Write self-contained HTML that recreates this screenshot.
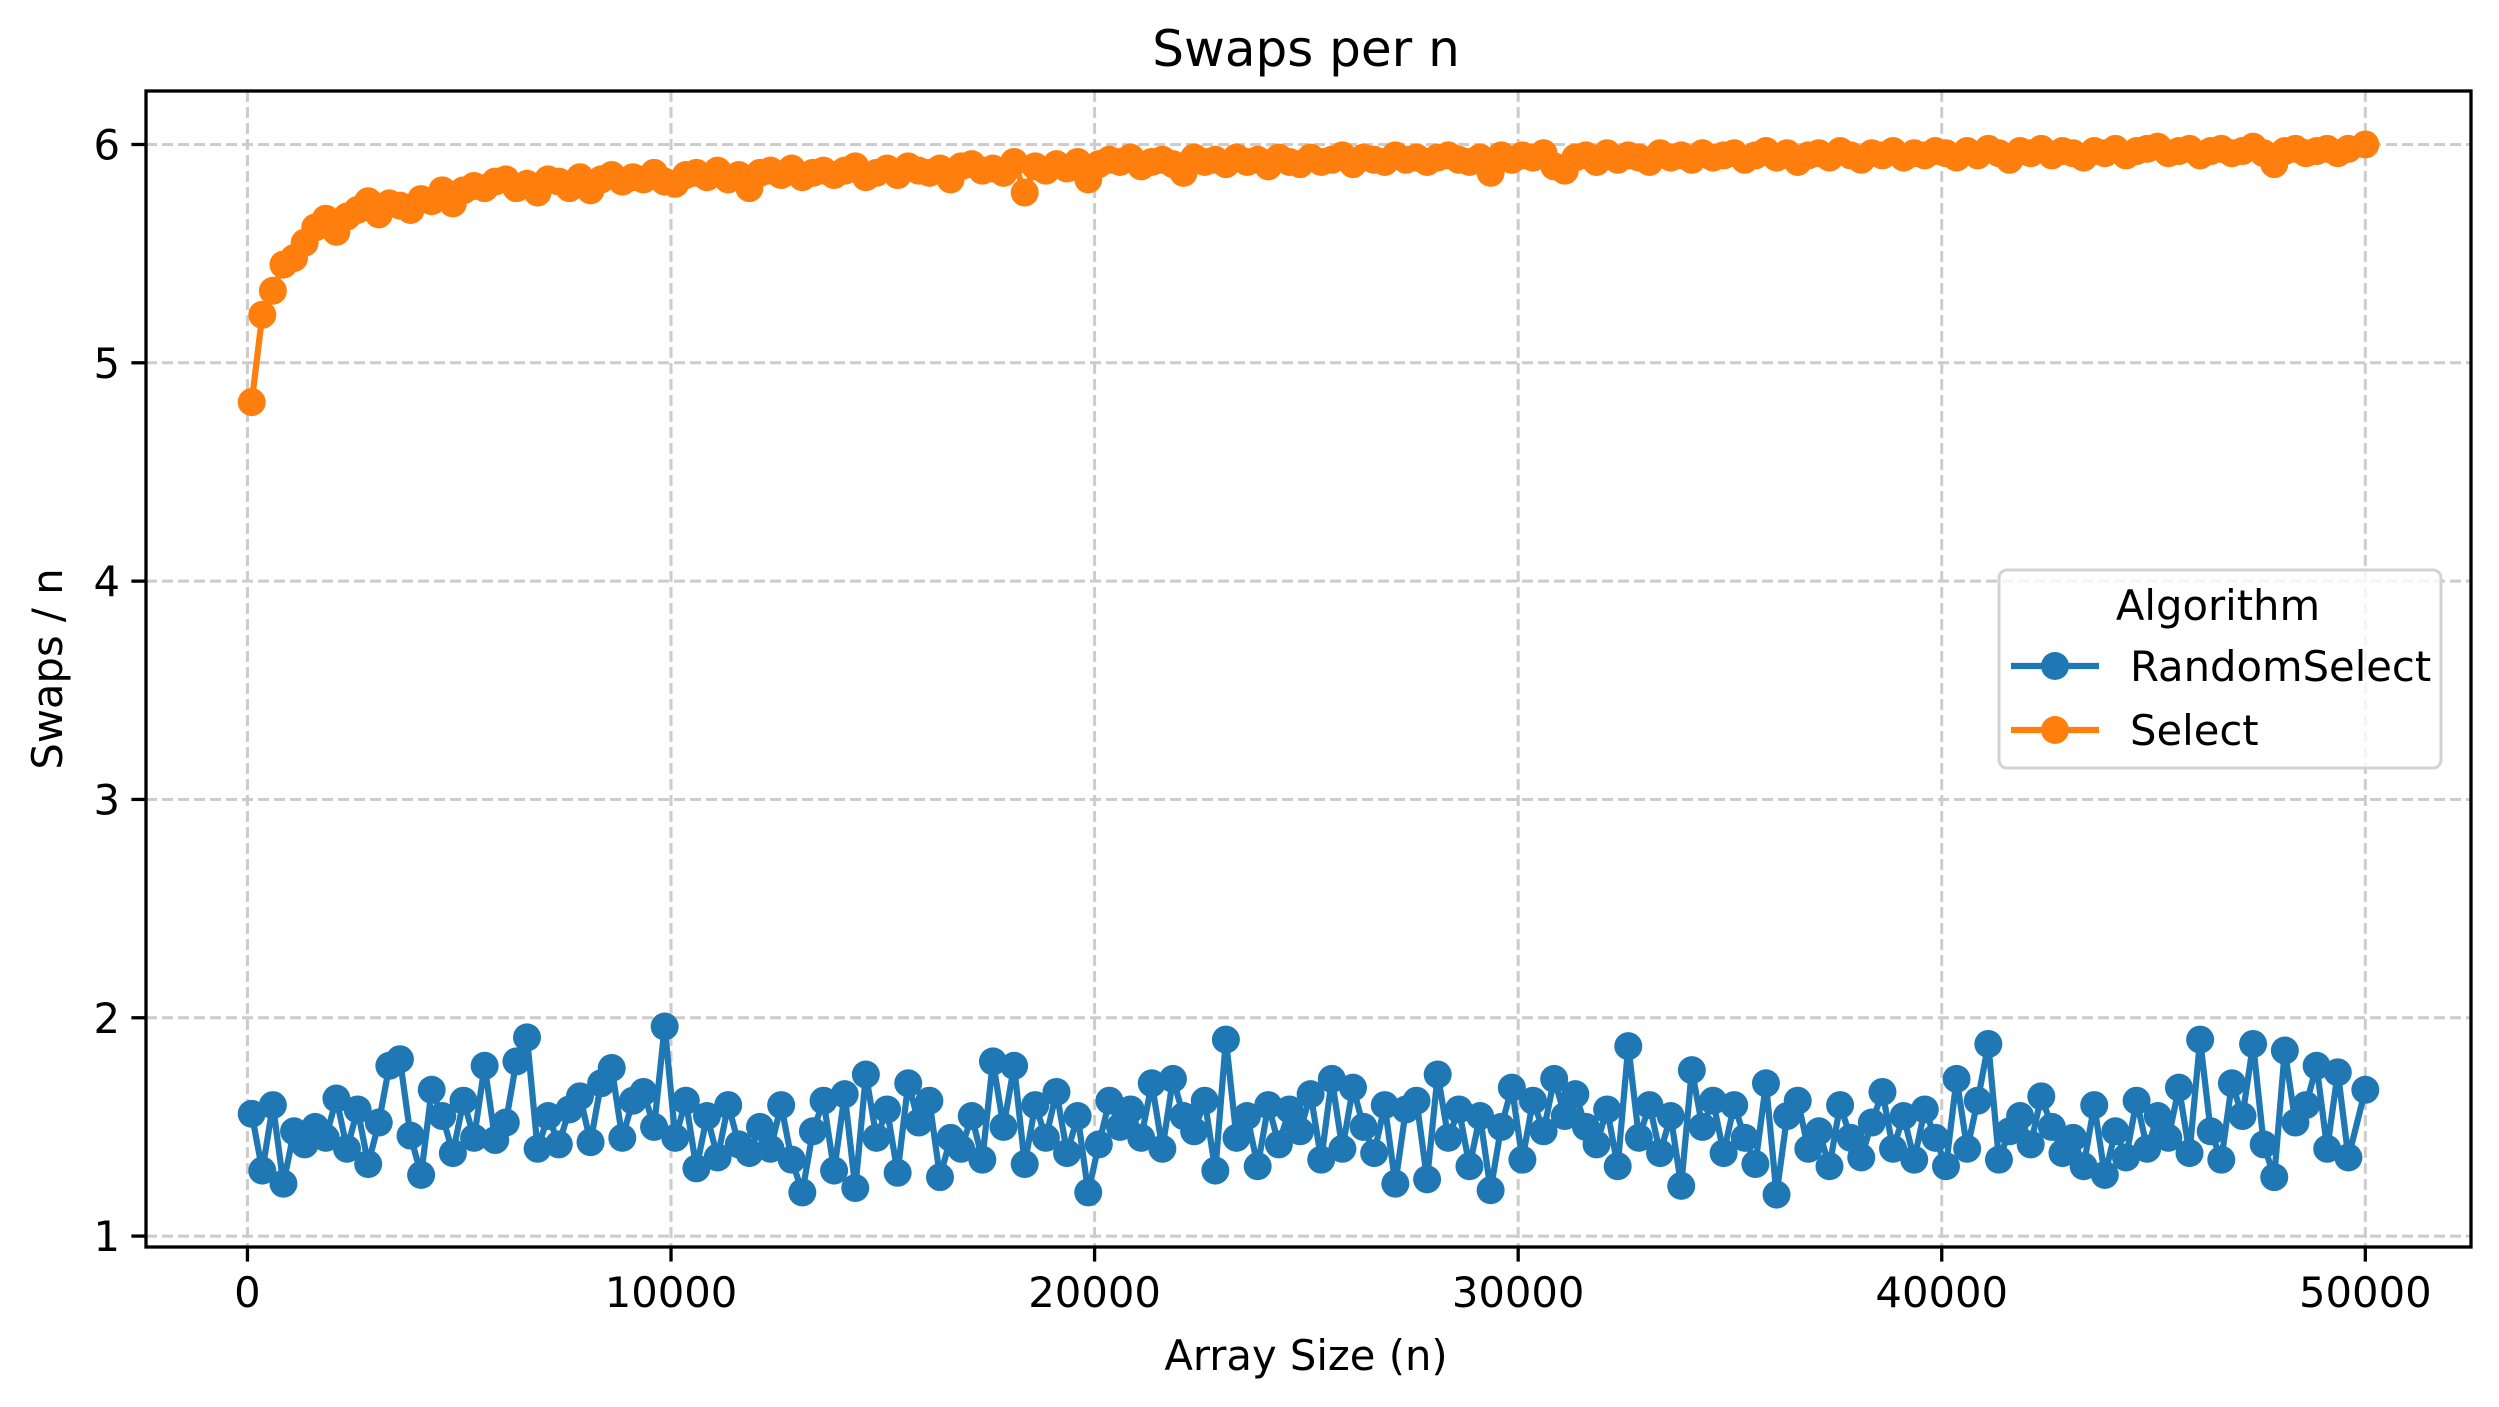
<!DOCTYPE html>
<html><head><meta charset="utf-8"><style>
html,body{margin:0;padding:0;background:#fff;}
svg{display:block;font-family:"DejaVu Sans","Liberation Sans",sans-serif;}
</style></head><body>
<svg id="chart" width="2499" height="1407" viewBox="0 0 2499 1407">
<rect x="0" y="0" width="2499" height="1407" fill="#fff"/>
<text x="1306" y="66" font-size="50" text-anchor="middle">Swaps per n</text>
<g id="grid"></g>
<g id="series"></g>
<g id="axes"></g>
<text x="1306" y="1370" font-size="41.7" text-anchor="middle">Array Size (n)</text>
<text x="0" y="0" font-size="41.7" text-anchor="middle" transform="translate(62,669) rotate(-90)">Swaps / n</text>
<g>
<rect x="1999" y="570" width="442" height="198" rx="8" fill="#fff" fill-opacity="0.8" stroke="#d3d3d3" stroke-width="3"/>
<text x="2218" y="620" font-size="41.7" text-anchor="middle">Algorithm</text>
<g>
<line x1="2011" y1="666" x2="2099" y2="666" stroke="#1f77b4" stroke-width="6.25"/>
<circle cx="2055" cy="666" r="14" fill="#1f77b4"/>
<text x="2130" y="681" font-size="41.7">RandomSelect</text></g>
<g>
<line x1="2011" y1="730" x2="2099" y2="730" stroke="#ff7f0e" stroke-width="6.25"/>
<circle cx="2055" cy="730" r="14" fill="#ff7f0e"/>
<text x="2130" y="745" font-size="41.7">Select</text></g>
</g>
</svg>
<script>
const xTicks=[0,10000,20000,30000,40000,50000];
const yTicks=[1,2,3,4,5,6];
const selectVals=[4.82,5.22,5.33,5.45,5.48,5.55,5.62,5.66,5.60,5.67,5.70,5.74,5.68,5.73,5.72,5.70,5.75,5.74,5.79,5.73,
5.79,5.81,5.80,5.83,5.84,5.80,5.82,5.78,5.84,5.83,5.80,5.85,5.79,5.84,5.86,5.83,5.85,5.84,5.87,5.83,
5.82,5.86,5.87,5.85,5.88,5.84,5.86,5.80,5.87,5.88,5.86,5.89,5.85,5.87,5.88,5.86,5.88,5.90,5.85,5.87,
5.89,5.86,5.90,5.88,5.87,5.89,5.84,5.90,5.91,5.88,5.89,5.87,5.92,5.78,5.90,5.88,5.91,5.89,5.92,5.84,
5.91,5.93,5.92,5.94,5.90,5.92,5.93,5.91,5.87,5.94,5.92,5.93,5.91,5.94,5.92,5.93,5.90,5.94,5.92,5.91,
5.94,5.92,5.93,5.95,5.91,5.94,5.93,5.92,5.95,5.93,5.94,5.92,5.94,5.95,5.93,5.92,5.94,5.87,5.95,5.93,
5.95,5.94,5.96,5.90,5.88,5.94,5.95,5.92,5.96,5.93,5.95,5.94,5.92,5.96,5.94,5.95,5.93,5.96,5.94,5.95,
5.96,5.93,5.95,5.97,5.94,5.96,5.92,5.95,5.96,5.94,5.97,5.95,5.93,5.96,5.95,5.97,5.94,5.96,5.95,5.97,
5.96,5.94,5.97,5.95,5.98,5.96,5.93,5.97,5.96,5.98,5.95,5.97,5.96,5.94,5.97,5.96,5.98,5.95,5.97,5.98,
5.99,5.96,5.97,5.98,5.95,5.97,5.98,5.96,5.97,5.99,5.96,5.91,5.97,5.98,5.96,5.97,5.98,5.96,5.98,6.00];
const randomVals=[1.56,1.30,1.60,1.24,1.48,1.42,1.50,1.45,1.63,1.40,1.58,1.33,1.52,1.78,1.81,1.46,1.28,1.67,1.55,1.38,
1.62,1.45,1.78,1.44,1.52,1.80,1.91,1.40,1.55,1.42,1.58,1.64,1.43,1.70,1.77,1.45,1.62,1.66,1.50,1.96,
1.45,1.62,1.31,1.55,1.36,1.60,1.42,1.38,1.50,1.40,1.60,1.35,1.20,1.48,1.62,1.30,1.65,1.22,1.74,1.45,
1.58,1.29,1.70,1.52,1.62,1.27,1.45,1.40,1.55,1.35,1.80,1.50,1.78,1.33,1.60,1.45,1.66,1.38,1.55,1.20,
1.42,1.62,1.50,1.58,1.45,1.70,1.40,1.72,1.55,1.48,1.62,1.30,1.90,1.45,1.55,1.32,1.60,1.42,1.58,1.48,
1.65,1.35,1.72,1.40,1.68,1.50,1.38,1.60,1.24,1.58,1.62,1.26,1.74,1.45,1.58,1.32,1.55,1.21,1.50,1.68,
1.35,1.62,1.48,1.72,1.55,1.65,1.50,1.42,1.58,1.32,1.87,1.45,1.60,1.38,1.55,1.23,1.76,1.50,1.62,1.38,
1.60,1.45,1.33,1.70,1.19,1.55,1.62,1.40,1.48,1.32,1.60,1.45,1.36,1.52,1.66,1.40,1.55,1.35,1.58,1.45,
1.32,1.72,1.40,1.62,1.88,1.35,1.48,1.55,1.42,1.64,1.50,1.38,1.45,1.32,1.60,1.28,1.48,1.36,1.62,1.40,
1.55,1.45,1.68,1.38,1.90,1.48,1.35,1.70,1.55,1.88,1.42,1.27,1.85,1.52,1.60,1.78,1.40,1.75,1.36,1.67];
const sizes=[];
for(let i=0;i<selectVals.length;i++){sizes.push(i===selectVals.length-1?50000:100+250*i);}

const L=146,R=2471,T=91,B=1247;
const xMin=-2395,xMax=52495,yMin=0.95,yMax=6.245;
const sx=v=>L+(v-xMin)/(xMax-xMin)*(R-L);
const sy=v=>B-(v-yMin)/(yMax-yMin)*(B-T);
const NS='http://www.w3.org/2000/svg';
function mk(tag,attrs,parent){const e=document.createElementNS(NS,tag);for(const k in attrs)e.setAttribute(k,attrs[k]);parent.appendChild(e);return e;}
const grid=document.getElementById('grid'),axes=document.getElementById('axes'),series=document.getElementById('series');

xTicks.forEach(t=>{
  const g=mk('line',{x1:sx(t),x2:sx(t),y1:T,y2:B,stroke:'#cccccc','stroke-width':3,'stroke-dasharray':'11,5'},grid);
  
  
  const tk=mk('line',{x1:sx(t),x2:sx(t),y1:B,y2:B+14.6,stroke:'#000','stroke-width':3.3},axes);
  
  
  const lb=mk('text',{x:sx(t),y:B+60,'font-size':41.7,'text-anchor':'middle'},axes);
  lb.textContent=t;
  
  
});
yTicks.forEach(t=>{
  const g=mk('line',{x1:L,x2:R,y1:sy(t),y2:sy(t),stroke:'#cccccc','stroke-width':3,'stroke-dasharray':'11,5'},grid);
  
  
  const tk=mk('line',{x1:L-14.6,x2:L,y1:sy(t),y2:sy(t),stroke:'#000','stroke-width':3.3},axes);
  
  
  const lb=mk('text',{x:L-26,y:sy(t)+15,'font-size':41.7,'text-anchor':'end'},axes);
  lb.textContent=t;
  
  
});
const frame=mk('rect',{x:L,y:T,width:R-L,height:B-T,fill:'none',stroke:'#000','stroke-width':3.3},axes);



function drawSeries(vals,color,name){
  const g=mk('g',{},series);
  
  
  const pts=vals.map((v,i)=>sx(sizes[i]).toFixed(1)+','+sy(v).toFixed(1)).join(' ');
  const pl=mk('polyline',{points:pts,fill:'none',stroke:color,'stroke-width':6.25,'stroke-linejoin':'round'},g);
  
  
  vals.forEach((v,i)=>{
    const c=mk('circle',{cx:sx(sizes[i]),cy:sy(v),r:14,fill:color},g);
    
    
  });
}
drawSeries(randomVals,'#1f77b4','randomselect-series');
drawSeries(selectVals,'#ff7f0e','select-series');
</script>
</body></html>
